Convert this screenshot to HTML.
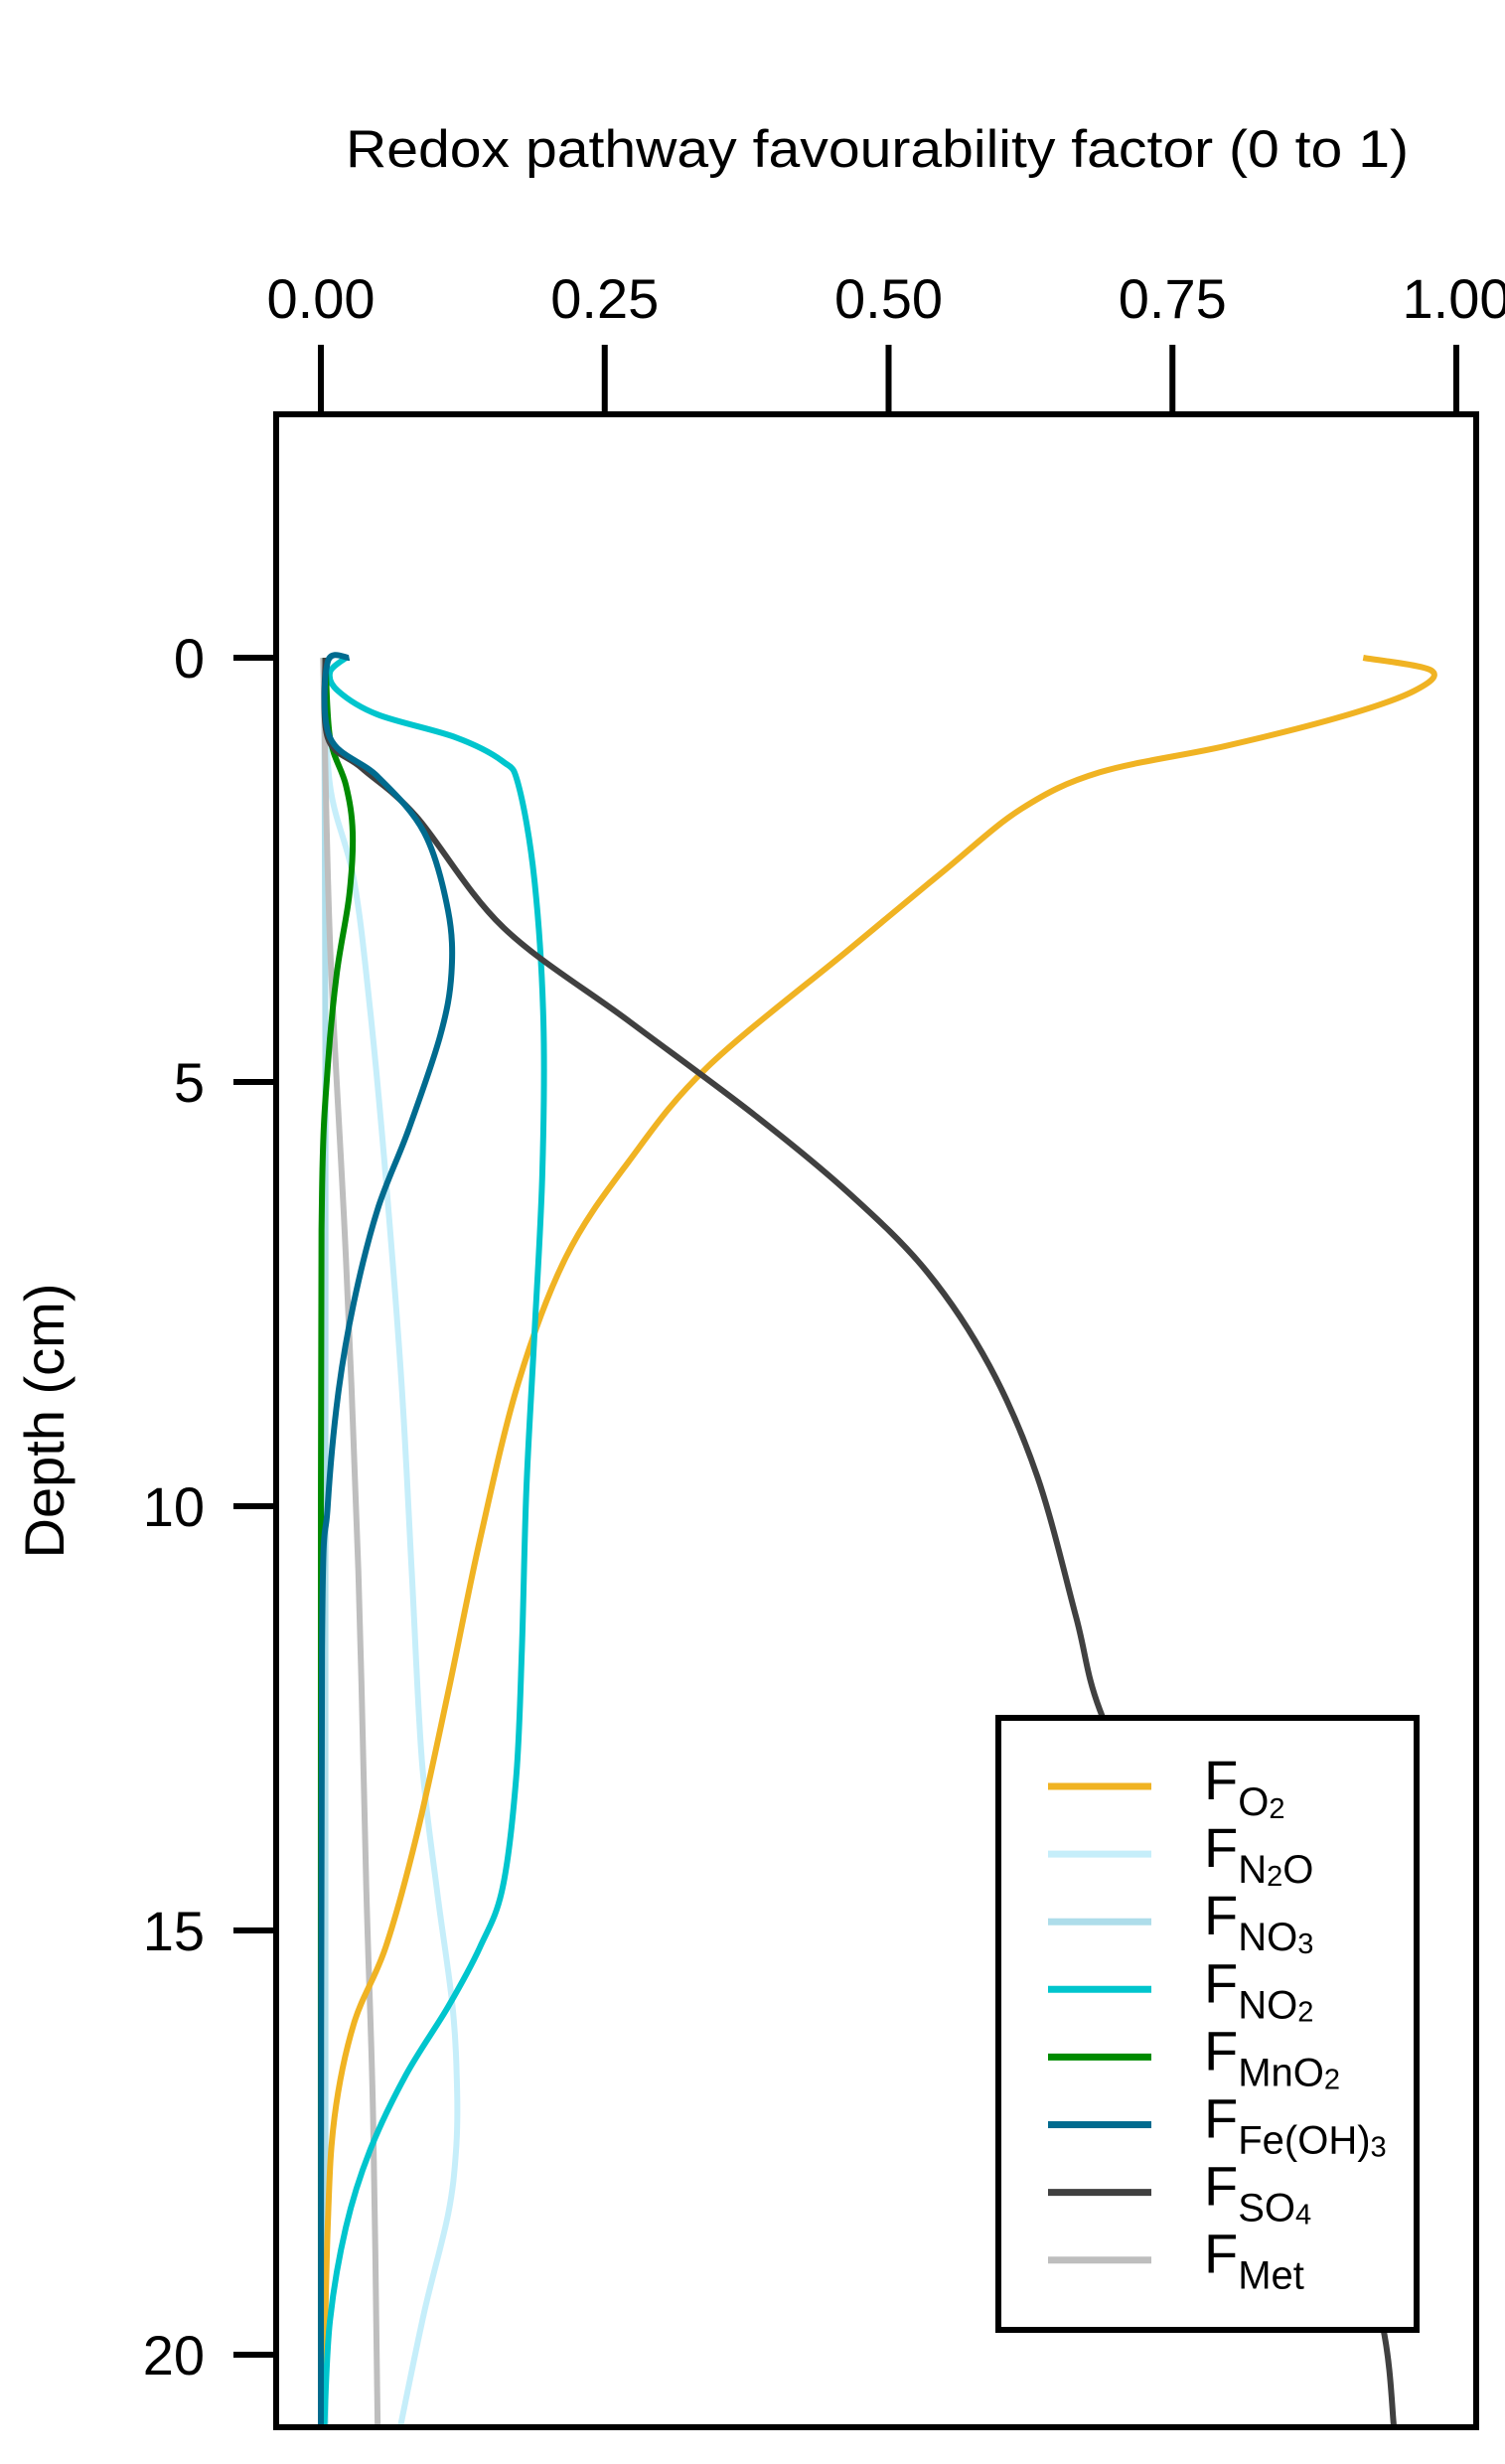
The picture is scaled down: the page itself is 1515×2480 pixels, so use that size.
<!DOCTYPE html>
<html><head><meta charset="utf-8"><style>
html,body{margin:0;padding:0;background:#fff;}
svg{display:block;font-family:"Liberation Sans",Arial,sans-serif;}
</style></head><body>
<svg id="chart" width="1515" height="2480" viewBox="0 0 1515 2480" xmlns="http://www.w3.org/2000/svg">
<defs><clipPath id="plotclip"><rect x="278" y="417" width="1208" height="2026"/></clipPath></defs>
<text x="883" y="168" font-size="53" text-anchor="middle" textLength="1070" lengthAdjust="spacingAndGlyphs">Redox pathway favourability factor (0 to 1)</text>
<g id="xaxis"></g>
<g id="yaxis"></g>
<text transform="translate(64,1430) rotate(-90)" font-size="56" text-anchor="middle">Depth (cm)</text>
<g id="series" clip-path="url(#plotclip)"></g>
<rect x="278" y="417" width="1208" height="2026" fill="none" stroke="#000" stroke-width="6"/>
<g id="legend"></g>
</svg>
<script>
const xTicks=[0,0.25,0.5,0.75,1.0];
const xTickLabels=["0.00","0.25","0.50","0.75","1.00"];
const yTicks=[0,5,10,15,20];
const yTickLabels=["0","5","10","15","20"];
const seriesNames=["O2","N2O","NO3","NO2","MnO2","FeOH3","SO4","Met"];
const depthO2=[0,0.15,0.39,0.69,1.04,1.35,1.78,2.52,3.44,4.83,5.94,7.06,8.54,10.4,12.2,13.9,15.2,16.1,17.2,18.5,20.85];
const valO2=[0.918,0.978,0.963,0.90,0.797,0.686,0.617,0.548,0.465,0.340,0.271,0.216,0.174,0.140,0.112,0.084,0.057,0.029,0.012,0.006,0.002];
const depthN2O=[0,1.5,2.61,4.1,6.1,8.54,10.76,13,14.5,15.9,16.9,17.6,18.35,19.5,20.85];
const valN2O=[0.003,0.008,0.029,0.043,0.057,0.071,0.080,0.089,0.102,0.116,0.120,0.119,0.112,0.091,0.070];
const depthNO3=[0,5,10,15,20.85];
const valNO3=[0.003,0.004,0.004,0.004,0.004];
const depthNO2=[0,0.17,0.39,0.67,0.94,1.22,1.5,2.61,4.28,6.1,8.0,9.8,11.7,13.2,14.5,15.2,15.9,16.7,17.6,18.5,19.6,20.85];
const valNO2=[0.022,0.008,0.015,0.05,0.119,0.160,0.174,0.188,0.196,0.195,0.188,0.181,0.177,0.172,0.160,0.140,0.112,0.075,0.043,0.022,0.008,0.003];
const depthMnO2=[0,0.94,1.5,2.06,2.8,3.72,4.83,6.3,10,20.85];
const valMnO2=[0.004,0.008,0.022,0.028,0.025,0.014,0.006,0.001,0.0,0.0];
const depthFe=[0,0.05,0.94,1.4,2.06,2.98,3.72,4.46,5.57,6.5,7.6,8.7,10.0,11.7,20.85];
const valFe=[0.025,0.006,0.008,0.05,0.091,0.112,0.115,0.105,0.077,0.05,0.029,0.015,0.006,0.001,0.0];
const depthSO4=[0,0.94,1.3,1.87,3.17,4.28,5.39,6.31,7.24,8.35,9.65,11.3,12.4,14,16,18,19.65,20.85];
const valSO4=[0.004,0.006,0.036,0.084,0.16,0.271,0.382,0.465,0.534,0.589,0.631,0.665,0.686,0.74,0.83,0.90,0.935,0.945];
const depthMet=[0,3.35,7.06,10.76,14.5,17.2,20.85];
const valMet=[0.002,0.008,0.022,0.033,0.040,0.046,0.05];

const X0=323,XS=1143,Y0=662,YS=85.4;
const xS=v=>X0+v*XS, yS=d=>Y0+d*YS;
const NS="http://www.w3.org/2000/svg";
function mk(tag,attrs,parent){const e=document.createElementNS(NS,tag);for(const k in attrs)e.setAttribute(k,attrs[k]);parent.appendChild(e);return e;}

const xa=document.getElementById('xaxis');
xTicks.forEach((t,i)=>{
  const l=mk('line',{x1:xS(t),x2:xS(t),y1:347,y2:417,stroke:'#000','stroke-width':6},xa);
  
  
  const tx=mk('text',{x:xS(t),y:320,'font-size':56,'text-anchor':'middle'},xa);
  tx.textContent=xTickLabels[i];
  
  
});
const ya=document.getElementById('yaxis');
yTicks.forEach((t,i)=>{
  const l=mk('line',{x1:235,x2:278,y1:yS(t),y2:yS(t),stroke:'#000','stroke-width':6},ya);
  
  
  const tx=mk('text',{x:206,y:yS(t)+20,'font-size':56,'text-anchor':'end'},ya);
  tx.textContent=yTickLabels[i];
  
  
});

function pathFrom(ds,vs){
  const p=ds.map((d,i)=>[xS(vs[i]),yS(d)]);
  let s='M'+p[0][0]+','+p[0][1];
  for(let i=0;i<p.length-1;i++){
    const a=p[i-1]||p[i],b=p[i],c=p[i+1],d=p[i+2]||p[i+1];
    const c1=[b[0]+(c[0]-a[0])/6,b[1]+(c[1]-a[1])/6];
    const c2=[c[0]-(d[0]-b[0])/6,c[1]-(d[1]-b[1])/6];
    s+=' C'+c1[0]+','+c1[1]+' '+c2[0]+','+c2[1]+' '+c[0]+','+c[1];
  }
  return s;
}
const sg=document.getElementById('series');
const defs=[
 ['NO3',depthNO3,valNO3,'#AEDDEA'],
 ['N2O',depthN2O,valN2O,'#C6EEFA'],
 ['Met',depthMet,valMet,'#BEBEBE'],
 ['O2',depthO2,valO2,'#F0B323'],
 ['NO2',depthNO2,valNO2,'#00C5CD'],
 ['MnO2',depthMnO2,valMnO2,'#008B00'],
 ['SO4',depthSO4,valSO4,'#404040'],
 ['FeOH3',depthFe,valFe,'#006B8F']
];
defs.forEach(s=>{
  const p=mk('path',{d:pathFrom(s[1],s[2]),fill:'none',stroke:s[3],'stroke-width':6,'stroke-linejoin':'round'},sg);
  
  
});

const lg=document.getElementById('legend');
const lb=mk('rect',{x:1005,y:1729,width:421,height:616,fill:'#fff',stroke:'#000','stroke-width':6},lg);


const legItems=[
 ['#F0B323',[['O',''],['2','s']]],
 ['#C6EEFA',[['N',''],['2','s'],['O','']]],
 ['#AEDDEA',[['NO',''],['3','s']]],
 ['#00C5CD',[['NO',''],['2','s']]],
 ['#008B00',[['MnO',''],['2','s']]],
 ['#006B8F',[['Fe(OH)',''],['3','s']]],
 ['#404040',[['SO',''],['4','s']]],
 ['#BEBEBE',[['Met','']]]
];
legItems.forEach((it,i)=>{
  const y=1798+i*68.1;
  const g=mk('g',{},lg);
  
  
  mk('line',{x1:1055,x2:1159,y1:y,y2:y,stroke:it[0],'stroke-width':7},g);
  const t=mk('text',{x:1212,y:y+13,'font-size':56},g);
  const f=mk('tspan',{},t);f.textContent='F';
  it[1].forEach((part,j)=>{
    const ts=mk('tspan',{'font-size':part[1]==='s'?29:40,y:part[1]==='s'?y+32:y+29},t);
    ts.textContent=part[0];
  });
});
</script>
</body></html>
